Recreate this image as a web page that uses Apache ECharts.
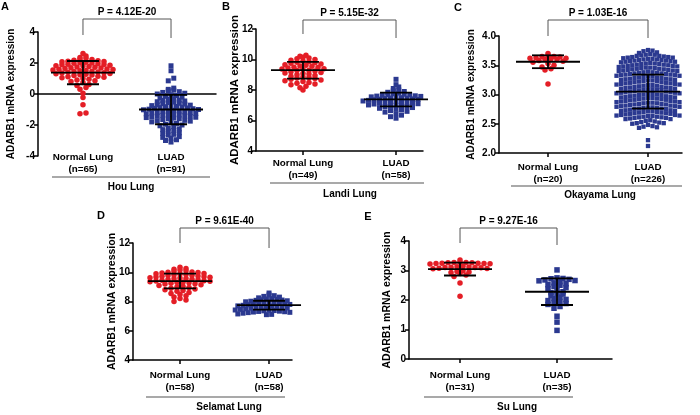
<!DOCTYPE html>
<html>
<head>
<meta charset="utf-8">
<script src="https://cdn.jsdelivr.net/npm/echarts@6/dist/echarts.min.js"></script>
<style>
  html, body { margin: 0; padding: 0; background: #fff; }
  #chart { width: 700px; height: 415px; }
</style>
</head>
<body>
<div id="chart"></div>
<script>
// ---- data ----
const groupNames = ['Normal Lung', 'LUAD'];
const datasetNames = ['Hou Lung', 'Landi Lung', 'Okayama Lung', 'Selamat Lung', 'Su Lung'];
const panelLetters = ['A', 'B', 'C', 'D', 'E'];
const sampleSizes = [[65, 91], [49, 58], [20, 226], [58, 58], [31, 35]];
const pValues = ['P = 4.12E-20', 'P = 5.15E-32', 'P = 1.03E-16', 'P = 9.61E-40', 'P = 9.27E-16'];
const yMin = [-4, 4, 2.0, 4, 0];
const yMax = [4, 12, 4.0, 12, 4];
const yStep = [2, 2, 0.5, 2, 1];
const meanValues = [[1.38, -1.0], [9.3, 7.38], [3.56, 3.05], [9.4, 7.75], [3.05, 2.28]];
const sdValues = [[0.75, 0.95], [0.55, 0.45], [0.11, 0.29], [0.5, 0.3], [0.22, 0.45]];

const houNormal = [2.62, 2.45, 2.36, 2.30, 2.25, 2.22, 2.18, 2.15, 2.12, 2.10,
  2.08, 2.05, 2.02, 2.00, 1.98, 1.95, 1.92, 1.90, 1.88, 1.85,
  1.83, 1.80, 1.78, 1.75, 1.72, 1.70, 1.68, 1.65, 1.62, 1.60,
  1.58, 1.55, 1.52, 1.50, 1.47, 1.45, 1.42, 1.40, 1.37, 1.35,
  1.32, 1.30, 1.27, 1.25, 1.22, 1.20, 1.15, 1.12, 1.08, 1.05,
  1.00, 0.95, 0.90, 0.85, 0.80, 0.75, 0.62, 0.55, 0.42, 0.30,
  0.05, -0.22, -0.70, -1.22, -1.28];
const houLuad = [1.82, 1.50, 1.02, 0.85, 0.38, 0.30, 0.25, 0.20, 0.15, 0.10,
  0.05, 0.00, -0.05, -0.10, -0.15, -0.20, -0.25, -0.30, -0.35, -0.40,
  -0.42, -0.45, -0.50, -0.52, -0.55, -0.60, -0.62, -0.65, -0.70, -0.72,
  -0.75, -0.78, -0.80, -0.82, -0.85, -0.88, -0.90, -0.92, -0.95, -0.98,
  -1.00, -1.02, -1.05, -1.08, -1.10, -1.12, -1.15, -1.18, -1.20, -1.22,
  -1.25, -1.28, -1.30, -1.33, -1.35, -1.38, -1.40, -1.42, -1.45, -1.48,
  -1.50, -1.52, -1.55, -1.58, -1.60, -1.65, -1.70, -1.72, -1.75, -1.80,
  -1.85, -1.90, -1.95, -2.00, -2.05, -2.10, -2.20, -2.25, -2.30, -2.35,
  -2.40, -2.50, -2.55, -2.60, -2.65, -2.75, -2.80, -2.85, -2.95, -3.00, -3.10];
const landiNormal = [10.28, 10.22, 10.15, 10.10, 10.05, 10.00, 9.95, 9.90, 9.85, 9.82,
  9.78, 9.75, 9.70, 9.65, 9.62, 9.58, 9.55, 9.50, 9.48, 9.45,
  9.40, 9.38, 9.35, 9.30, 9.28, 9.25, 9.20, 9.15, 9.12, 9.08,
  9.05, 9.00, 8.95, 8.90, 8.85, 8.82, 8.78, 8.75, 8.70, 8.65,
  8.60, 8.55, 8.50, 8.45, 8.40, 8.35, 8.25, 8.15, 8.00];
const landiLuad = [8.70, 8.35, 8.20, 8.10, 8.00, 7.95, 7.90, 7.85, 7.80, 7.75,
  7.72, 7.70, 7.68, 7.65, 7.62, 7.60, 7.58, 7.55, 7.52, 7.50,
  7.48, 7.46, 7.44, 7.42, 7.40, 7.38, 7.36, 7.34, 7.32, 7.30,
  7.28, 7.26, 7.24, 7.22, 7.20, 7.18, 7.15, 7.12, 7.10, 7.08,
  7.05, 7.02, 7.00, 6.98, 6.95, 6.92, 6.90, 6.85, 6.80, 6.75,
  6.70, 6.65, 6.60, 6.55, 6.45, 6.35, 6.25, 6.15];
const okayamaNormal = [3.70, 3.66, 3.65, 3.65, 3.64, 3.63, 3.62, 3.62, 3.61, 3.60,
  3.60, 3.58, 3.57, 3.55, 3.53, 3.50, 3.47, 3.44, 3.42, 3.18];
const okayamaLuad = [3.76, 3.75, 3.74, 3.72, 3.71,
  3.69, 3.68, 3.68, 3.67, 3.66, 3.66, 3.65, 3.64, 3.64, 3.63, 3.63, 3.62,
  3.61, 3.61, 3.60, 3.60, 3.59, 3.59, 3.58, 3.58, 3.57, 3.57, 3.56, 3.56, 3.55, 3.54,
  3.53, 3.53, 3.52, 3.52, 3.51, 3.51, 3.50, 3.50, 3.49, 3.49, 3.48, 3.48, 3.47, 3.46, 3.46,
  3.45, 3.45, 3.44, 3.44, 3.43, 3.43, 3.42, 3.42, 3.41, 3.41, 3.40, 3.40, 3.39, 3.38, 3.38,
  3.37, 3.37, 3.36, 3.36, 3.35, 3.35, 3.34, 3.34, 3.33, 3.33, 3.32, 3.32, 3.31, 3.31, 3.30,
  3.29, 3.29, 3.28, 3.28, 3.27, 3.27, 3.26, 3.26, 3.25, 3.25, 3.24, 3.24, 3.23, 3.23, 3.22,
  3.21, 3.21, 3.20, 3.20, 3.19, 3.19, 3.18, 3.18, 3.17, 3.17, 3.16, 3.16, 3.15, 3.15, 3.14,
  3.13, 3.13, 3.12, 3.12, 3.11, 3.11, 3.10, 3.10, 3.09, 3.09, 3.08, 3.08, 3.07, 3.07, 3.06,
  3.05, 3.05, 3.04, 3.04, 3.03, 3.03, 3.02, 3.02, 3.01, 3.01, 3.00, 3.00, 2.99, 2.99, 2.98,
  2.97, 2.97, 2.96, 2.96, 2.95, 2.95, 2.94, 2.94, 2.93, 2.93, 2.92, 2.92, 2.91, 2.91, 2.90,
  2.89, 2.89, 2.88, 2.88, 2.87, 2.87, 2.86, 2.86, 2.85, 2.85, 2.84, 2.84, 2.83, 2.83, 2.82,
  2.81, 2.81, 2.80, 2.80, 2.79, 2.79, 2.78, 2.78, 2.77, 2.77, 2.76, 2.76, 2.75, 2.75, 2.74,
  2.73, 2.73, 2.72, 2.72, 2.71, 2.71, 2.70, 2.70, 2.69, 2.69, 2.68, 2.68, 2.67, 2.67, 2.66,
  2.65, 2.65, 2.64, 2.64, 2.63, 2.63, 2.62, 2.62, 2.61, 2.61, 2.60, 2.60, 2.59, 2.58, 2.58,
  2.56, 2.55, 2.54, 2.53, 2.52, 2.51, 2.51, 2.50,
  2.48, 2.46, 2.45, 2.44, 2.43,
  2.22, 2.12];
const selamatNormal = [10.35, 10.25, 10.20, 10.15, 10.10, 10.05, 10.02, 10.00, 9.98, 9.95,
  9.92, 9.90, 9.88, 9.85, 9.82, 9.80, 9.78, 9.75, 9.72, 9.70,
  9.68, 9.65, 9.62, 9.60, 9.58, 9.55, 9.52, 9.50, 9.48, 9.45,
  9.42, 9.40, 9.38, 9.35, 9.32, 9.30, 9.28, 9.25, 9.22, 9.20,
  9.15, 9.10, 9.05, 9.00, 8.95, 8.90, 8.85, 8.80, 8.75, 8.70,
  8.62, 8.55, 8.48, 8.40, 8.30, 8.20, 8.10, 8.00];
const selamatLuad = [8.58, 8.45, 8.40, 8.35, 8.30, 8.25, 8.20, 8.18, 8.15, 8.12,
  8.10, 8.08, 8.05, 8.02, 8.00, 7.98, 7.95, 7.92, 7.90, 7.88,
  7.86, 7.84, 7.82, 7.80, 7.78, 7.76, 7.74, 7.72, 7.70, 7.68,
  7.66, 7.64, 7.62, 7.60, 7.58, 7.56, 7.54, 7.52, 7.50, 7.48,
  7.46, 7.44, 7.42, 7.40, 7.38, 7.36, 7.34, 7.32, 7.30, 7.28,
  7.26, 7.24, 7.22, 7.20, 7.18, 7.15, 7.12, 7.10];
const suNormal = [3.36, 3.28, 3.27, 3.27, 3.26, 3.26, 3.25, 3.25, 3.24, 3.24, 3.23, 3.22,
  3.14, 3.13, 3.12, 3.11, 3.10, 3.10, 3.09, 3.08, 3.07, 3.06,
  2.99, 2.97, 2.95, 2.93, 2.90, 2.85, 2.80, 2.58, 2.13];
const suLuad = [3.02, 2.75, 2.73, 2.72, 2.70, 2.68, 2.66, 2.65, 2.62,
  2.58, 2.55, 2.52, 2.50, 2.46, 2.42, 2.38,
  2.32, 2.28, 2.25, 2.22, 2.20, 2.15, 2.10,
  2.05, 2.02, 1.98, 1.95, 1.92, 1.88, 1.85,
  1.78, 1.72, 1.45, 1.25, 0.97];

const groupValues = [
  [houNormal, houLuad], [landiNormal, landiLuad], [okayamaNormal, okayamaLuad],
  [selamatNormal, selamatLuad], [suNormal, suLuad]
];

// ---- layout (pixels) ----
const layout = [
  { left: 38, top: 32, width: 178, height: 124, xMin: -0.511, xMax: 1.511, labelMargin: -5,
    nameGap: 22, nameSize: 10, bracket: [-13, 3, 6], line: [52, 210, 177], title: [131, 187],
    letter: [5, 7], sym: [5.5, 5], row: 4, step: [6, 5.5] },
  { left: 256, top: 29, width: 167, height: 122, xMin: -0.505, xMax: 1.29, labelMargin: 6,
    nameGap: 15, nameSize: 11.5, bracket: [-9, 5, 9], line: [270, 424, 183], title: [350, 194],
    letter: [226, 7], sym: [5.5, 5], row: 4, step: [6, 5.5] },
  { left: 499, top: 36, width: 183, height: 117, xMin: -0.49, xMax: 1.34, labelMargin: 8,
    nameGap: 23, nameSize: 10, bracket: [-16, 0, 2], line: [511, 682, 186], title: [600, 195],
    letter: [458, 8], sym: [5.5, 4.3], row: 4.4, step: [6, 4.5] },
  { left: 133, top: 243, width: 159, height: 117, xMin: -0.528, xMax: 1.258, labelMargin: 9,
    nameGap: 15, nameSize: 10.5, bracket: [-15, 0, 5], line: [146, 285, 397], title: [229, 407],
    letter: [101, 216], sym: [5.5, 5], row: 4, step: [6, 5.2] },
  { left: 409, top: 241, width: 203, height: 118, xMin: -0.526, xMax: 1.567, labelMargin: 10,
    nameGap: 16, nameSize: 10.5, bracket: [-13, 2, 4], line: [424, 573, 397], title: [517, 407],
    letter: [368, 217], sym: [5.5, 5.5], row: 4, step: [6, 6] }
];

const FONT = "'Liberation Sans', Arial, sans-serif";
const RED = '#e41e26';
const BLUE = '#2b3990';
const BLACK = '#000';

// prism-like row layout: values that fall in one row are spread sideways
function swarm(values, group, lay, lo, hi, rowPx, stepPx) {
  const pxPerY = lay.height / (hi - lo);
  const pxPerX = lay.width / (lay.xMax - lay.xMin);
  const rows = {};
  values.forEach(v => {
    const k = Math.round((v - lo) * pxPerY / rowPx);
    (rows[k] = rows[k] || []).push(v);
  });
  const out = [];
  Object.keys(rows).forEach(k => {
    const r = rows[k];
    const n = r.length;
    r.forEach((v, i) => {
      // center-out alternating order
      let slot;
      if (n % 2) slot = i === 0 ? 0 : (i % 2 ? 1 : -1) * Math.ceil(i / 2);
      else slot = (i % 2 ? -1 : 1) * (Math.floor(i / 2) + 0.5);
      out.push([group + slot * stepPx / pxPerX, v]);
    });
  });
  return out;
}

const chart = echarts.init(document.getElementById('chart'));

const grids = [], xAxes = [], yAxes = [], series = [], graphics = [];
let xIdx = 0;

layout.forEach((lay, i) => {
  grids.push({ left: lay.left, top: lay.top, width: lay.width, height: lay.height,
    containLabel: false, outerBoundsMode: 'none' });

  const labelAxis = {
    gridIndex: i, type: 'value', min: lay.xMin, max: lay.xMax, position: 'bottom',
    axisLine: { show: i !== 0, onZero: false, lineStyle: { color: BLACK, width: 1.5 } },
    axisTick: { show: i !== 0, customValues: [0, 1], length: 4, lineStyle: { color: BLACK, width: 1.5 } },
    axisLabel: {
      customValues: [0, 1], margin: lay.labelMargin, color: BLACK, fontWeight: 'bold',
      fontSize: 9.8, fontFamily: FONT, lineHeight: 12.5,
      formatter: v => groupNames[Math.round(v)] + '\n(n=' + sampleSizes[i][Math.round(v)] + ')'
    },
    splitLine: { show: false }
  };
  let dataAxis = xIdx;
  if (i === 0) {
    // the zero line in panel A
    xAxes.push({
      gridIndex: 0, type: 'value', min: lay.xMin, max: lay.xMax, position: 'bottom',
      axisLine: { show: true, onZero: true, lineStyle: { color: BLACK, width: 1.5 } },
      axisTick: { show: false }, axisLabel: { show: false }, splitLine: { show: false }
    });
    dataAxis = xIdx;
    xIdx++;
  }
  xAxes.push(labelAxis);
  if (i !== 0) dataAxis = xIdx;
  xIdx++;

  yAxes.push({
    gridIndex: i, type: 'value', min: yMin[i], max: yMax[i], interval: yStep[i],
    name: 'ADARB1 mRNA expression', nameLocation: 'middle', nameGap: lay.nameGap, nameMoveOverlap: false,
    nameTextStyle: { color: BLACK, fontWeight: 'bold', fontSize: lay.nameSize, fontFamily: FONT },
    axisLine: { show: true, onZero: false, lineStyle: { color: BLACK, width: 1.5 } },
    axisTick: { show: true, length: 4, lineStyle: { color: BLACK, width: 1.5 } },
    axisLabel: { margin: 3, color: BLACK, fontWeight: 'bold', fontSize: 10, fontFamily: FONT,
      formatter: v => (yStep[i] < 1 ? v.toFixed(1) : String(v)) },
    splitLine: { show: false }
  });

  [0, 1].forEach(g => {
    series.push({
      type: 'scatter', xAxisIndex: dataAxis, yAxisIndex: i,
      symbol: g === 0 ? 'circle' : 'rect', symbolSize: lay.sym[g],
      itemStyle: { color: g === 0 ? RED : BLUE, opacity: 1 },
      data: swarm(groupValues[i][g], g, lay, yMin[i], yMax[i], lay.row, lay.step[g]),
      silent: true, z: 2
    });
  });

  series.push({
    type: 'custom', xAxisIndex: dataAxis, yAxisIndex: i, z: 5, clip: false, silent: true,
    data: [0, 1].map(g => [g, meanValues[i][g], sdValues[i][g]]),
    encode: { x: 0, y: 1 },
    renderItem: (params, api) => {
      const x = api.value(0), m = api.value(1), s = api.value(2);
      const c = api.coord([x, m]), hi = api.coord([x, m + s]), lo = api.coord([x, m - s]);
      const st = { stroke: BLACK, lineWidth: 1.8 };
      return { type: 'group', children: [
        { type: 'line', shape: { x1: c[0] - 32, y1: c[1], x2: c[0] + 32, y2: c[1] }, style: st },
        { type: 'line', shape: { x1: c[0], y1: hi[1], x2: c[0], y2: lo[1] }, style: st },
        { type: 'line', shape: { x1: c[0] - 16, y1: hi[1], x2: c[0] + 16, y2: hi[1] }, style: st },
        { type: 'line', shape: { x1: c[0] - 16, y1: lo[1], x2: c[0] + 16, y2: lo[1] }, style: st }
      ] };
    }
  });

  series.push({
    type: 'custom', xAxisIndex: dataAxis, yAxisIndex: i, z: 5, clip: false, silent: true,
    data: [[0.5, yMax[i]]],
    encode: { x: 0, y: 1 },
    renderItem: (params, api) => {
      const a = api.coord([0, yMax[i]]), b = api.coord([1, yMax[i]]);
      const top = a[1] + lay.bracket[0];
      return { type: 'group', children: [
        { type: 'polyline', shape: { points: [[a[0], a[1] + lay.bracket[1]], [a[0], top], [b[0], top], [b[0], a[1] + lay.bracket[2]]] },
          style: { stroke: '#555', lineWidth: 1, fill: null } },
        { type: 'text', style: { text: pValues[i], x: (a[0] + b[0]) / 2, y: top - 7, align: 'center', verticalAlign: 'middle',
          font: 'bold 10px ' + FONT, fill: BLACK } }
      ] };
    }
  });

  graphics.push(
    { type: 'line', shape: { x1: lay.line[0], y1: lay.line[2], x2: lay.line[1], y2: lay.line[2] },
      style: { stroke: '#555', lineWidth: 1.2 }, silent: true },
    { type: 'text', x: lay.title[0], y: lay.title[1],
      style: { text: datasetNames[i], align: 'center', verticalAlign: 'middle', font: 'bold 10px ' + FONT, fill: BLACK } },
    { type: 'text', x: lay.letter[0], y: lay.letter[1],
      style: { text: panelLetters[i], align: 'center', verticalAlign: 'middle', font: 'bold 11px ' + FONT, fill: BLACK } }
  );
});

chart.setOption({
  backgroundColor: '#fff',
  animation: false,
  grid: grids,
  xAxis: xAxes,
  yAxis: yAxes,
  series: series,
  graphic: graphics
});
</script>
</body>
</html>
